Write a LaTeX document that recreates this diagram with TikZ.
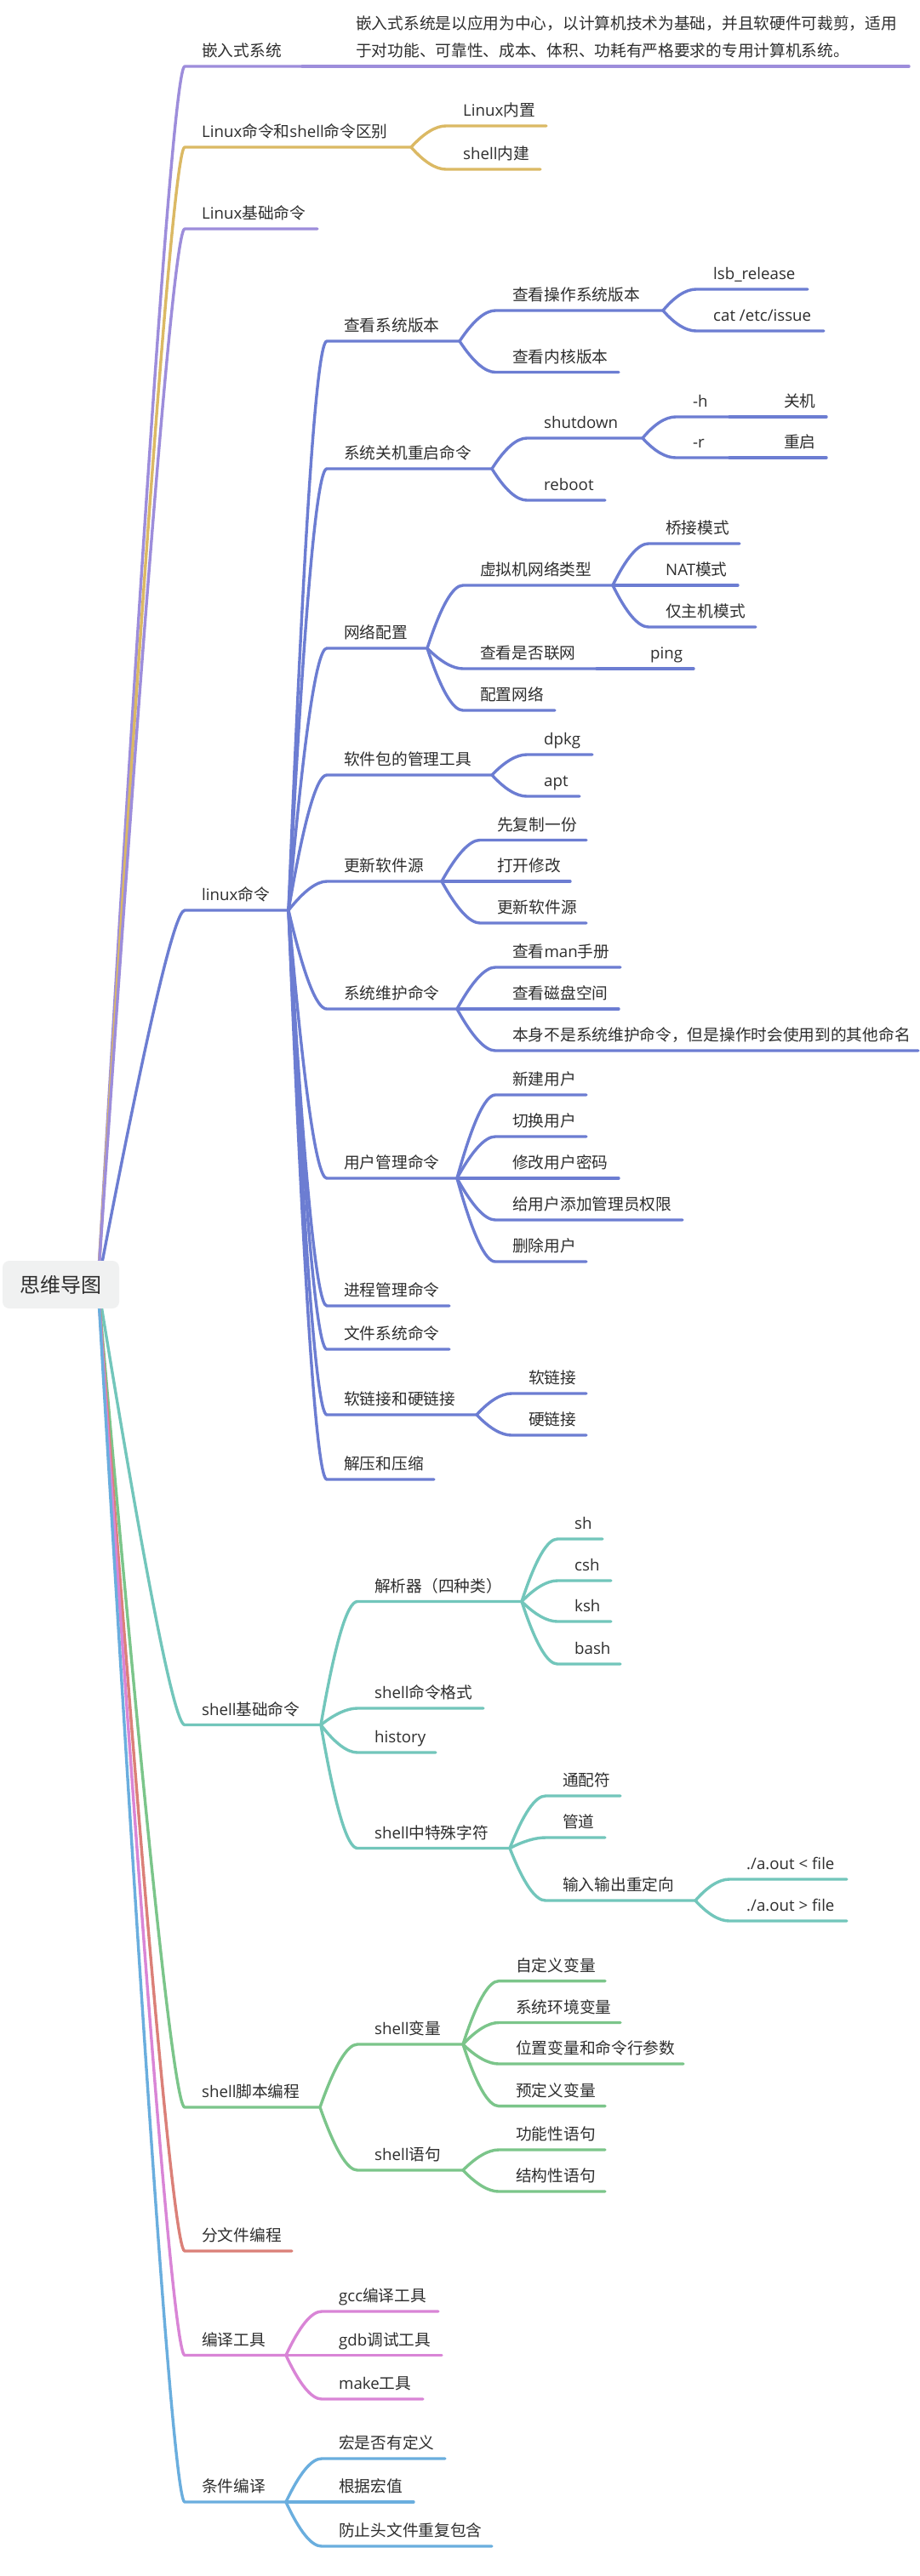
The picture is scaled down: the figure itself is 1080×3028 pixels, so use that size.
\documentclass[tikz,border=0pt]{standalone}
\usepackage{fontspec}
\setmainfont{Noto Sans CJK SC}
\newfontfamily\osf{Open Sans}
\newcommand\LT[1]{{\osf #1}}
\usetikzlibrary{calc}
\definecolor{cPur}{HTML}{9D8DDB}
\definecolor{cGold}{HTML}{DBB964}
\definecolor{cBlu}{HTML}{6C7DD2}
\definecolor{cTeal}{HTML}{72C6BB}
\definecolor{cGrn}{HTML}{7BC58A}
\definecolor{cRed}{HTML}{DB8078}
\definecolor{cPnk}{HTML}{D985D6}
\definecolor{cSky}{HTML}{6AAEDE}
\definecolor{txt}{HTML}{2E2E2E}
\definecolor{rootfill}{HTML}{F0F1F1}
\tikzset{
  br/.style={line width=3.4pt, line cap=round, line join=round},
  lbl/.style={anchor=base west, inner sep=0pt, text=txt, font=\fontsize{18.7}{22}\selectfont},
  rootbox/.style={fill=rootfill, rounded corners=8pt, minimum width=137pt, minimum height=56pt, inner sep=0pt, text=txt, font=\fontsize{24}{28}\selectfont},
}
% #1 name, #2 parent fork, #3 colour, #4 text x, #5 line y, #6 line end x, #7 text
\newcommand\mbr[7]{%
  \coordinate (#1s) at ({#4-20},#5);
  \coordinate (#1e) at (#6,#5);
  \coordinate (#1c) at ({#4-38},#5);
  \draw[br,#3] (#2) .. controls ($(#2)!2/3!(#1c)$) and ($(#1s)!2/3!(#1c)$) .. (#1s) -- (#1e);
  \node[lbl] (#1) at (#4,{#5-11.5}) {#7};
}
\begin{document}
\begin{tikzpicture}[x=1pt,y=-1pt]
\fill[white] (0,0) rectangle (1080,3028);
\useasboundingbox (0,0) rectangle (1080,3028);
\coordinate (rootc) at (115,1510);

\mbr{emb}{rootc}{cPur}{237}{78}{355}{嵌入式系统}
\mbr{desc}{embe}{cPur}{418}{78}{1068}{\fontsize{18.7}{32}\selectfont\begin{tabular}[b]{@{}l@{}}嵌入式系统是以应用为中心，以计算机技术为基础，并且软硬件可裁剪，适用\\于对功能、可靠性、成本、体积、功耗有严格要求的专用计算机系统。\end{tabular}}

\mbr{diff}{rootc}{cGold}{237}{173}{483}{\LT{Linux}命令和\LT{shell}命令区别}
\mbr{lnz}{diffe}{cGold}{544}{148}{642}{\LT{Linux}内置}
\mbr{shnj}{diffe}{cGold}{544}{199}{635}{\LT{shell}内建}

\mbr{basic}{rootc}{cPur}{237}{269}{373}{\LT{Linux}基础命令}

\mbr{lx}{rootc}{cBlu}{237}{1070}{339}{\LT{linux}命令}
\mbr{ver}{lxe}{cBlu}{404}{401}{540}{查看系统版本}
\mbr{osv}{vere}{cBlu}{602}{365}{779}{查看操作系统版本}
\mbr{lsb}{osve}{cBlu}{838}{340}{949}{\LT{lsb\_release}}
\mbr{cat}{osve}{cBlu}{838}{389}{968}{\LT{cat /etc/issue}}
\mbr{kv}{vere}{cBlu}{602}{437.5}{727}{查看内核版本}
\mbr{pw}{lxe}{cBlu}{404}{551}{578}{系统关机重启命令}
\mbr{sd}{pwe}{cBlu}{639}{515}{755}{\LT{shutdown}}
\mbr{hh}{sde}{cBlu}{814}{490}{857}{\LT{-h}}
\mbr{gj}{hhe}{cBlu}{921}{490}{971}{关机}
\mbr{rr}{sde}{cBlu}{814}{538}{857}{\LT{-r}}
\mbr{cq}{rre}{cBlu}{921}{538}{971}{重启}
\mbr{rb}{pwe}{cBlu}{639}{588}{711}{\LT{reboot}}
\mbr{net}{lxe}{cBlu}{404}{762}{502}{网络配置}
\mbr{vm}{nete}{cBlu}{564}{688}{720}{虚拟机网络类型}
\mbr{bri}{vme}{cBlu}{782}{639}{869}{桥接模式}
\mbr{nat}{vme}{cBlu}{782}{688}{867}{\LT{NAT}模式}
\mbr{host}{vme}{cBlu}{782}{737}{888}{仅主机模式}
\mbr{conn}{nete}{cBlu}{564}{786}{701}{查看是否联网}
\mbr{ping}{conne}{cBlu}{764}{786}{815}{\LT{ping}}
\mbr{cfg}{nete}{cBlu}{564}{835}{652}{配置网络}
\mbr{pkg}{lxe}{cBlu}{404}{911}{578}{软件包的管理工具}
\mbr{dpkg}{pkge}{cBlu}{639}{887}{696}{\LT{dpkg}}
\mbr{apt}{pkge}{cBlu}{639}{936}{681}{\LT{apt}}
\mbr{src}{lxe}{cBlu}{404}{1036}{519}{更新软件源}
\mbr{cp}{srce}{cBlu}{584}{987.5}{689}{先复制一份}
\mbr{ed}{srce}{cBlu}{584}{1036}{670}{打开修改}
\mbr{up}{srce}{cBlu}{584}{1085}{689}{更新软件源}
\mbr{mt}{lxe}{cBlu}{404}{1186}{537}{系统维护命令}
\mbr{man}{mte}{cBlu}{602}{1137}{729}{查看\LT{man}手册}
\mbr{df}{mte}{cBlu}{602}{1186}{727}{查看磁盘空间}
\mbr{oth}{mte}{cBlu}{602}{1235}{1079}{本身不是系统维护命令，但是操作时会使用到的其他命名}
\mbr{usr}{lxe}{cBlu}{404}{1385}{537}{用户管理命令}
\mbr{ua}{usre}{cBlu}{602}{1287}{689}{新建用户}
\mbr{ub}{usre}{cBlu}{602}{1336}{689}{切换用户}
\mbr{uc}{usre}{cBlu}{602}{1385}{727}{修改用户密码}
\mbr{ud}{usre}{cBlu}{602}{1434}{802}{给用户添加管理员权限}
\mbr{uf}{usre}{cBlu}{602}{1483}{689}{删除用户}
\mbr{proc}{lxe}{cBlu}{404}{1535}{528}{进程管理命令}
\mbr{fsys}{lxe}{cBlu}{404}{1586}{528}{文件系统命令}
\mbr{lnk}{lxe}{cBlu}{404}{1663}{560}{软链接和硬链接}
\mbr{sl}{lnke}{cBlu}{621}{1638}{689}{软链接}
\mbr{hl}{lnke}{cBlu}{621}{1687}{689}{硬链接}
\mbr{zip}{lxe}{cBlu}{404}{1739}{510}{解压和压缩}

\mbr{sb}{rootc}{cTeal}{237}{2027.5}{377}{\LT{shell}基础命令}
\mbr{par}{sbe}{cTeal}{440}{1882.5}{613}{解析器（四种类）}
\mbr{sh}{pare}{cTeal}{675}{1809}{708}{\LT{sh}}
\mbr{csh}{pare}{cTeal}{675}{1858}{718}{\LT{csh}}
\mbr{ksh}{pare}{cTeal}{675}{1906}{718}{\LT{ksh}}
\mbr{bash}{pare}{cTeal}{675}{1956}{729}{\LT{bash}}
\mbr{fmt}{sbe}{cTeal}{440}{2008}{568}{\LT{shell}命令格式}
\mbr{his}{sbe}{cTeal}{440}{2060}{512}{\LT{history}}
\mbr{spc}{sbe}{cTeal}{440}{2172.5}{599}{\LT{shell}中特殊字符}
\mbr{wc}{spce}{cTeal}{661}{2111}{729}{通配符}
\mbr{pp}{spce}{cTeal}{661}{2160}{711}{管道}
\mbr{rd}{spce}{cTeal}{661}{2234}{817}{输入输出重定向}
\mbr{rdi}{rde}{cTeal}{877}{2209}{995}{\LT{./a.out < file}}
\mbr{rdo}{rde}{cTeal}{877}{2258}{995}{\LT{./a.out > file}}

\mbr{scr}{rootc}{cGrn}{237}{2477}{376}{\LT{shell}脚本编程}
\mbr{var}{scre}{cGrn}{440}{2403}{544}{\LT{shell}变量}
\mbr{va}{vare}{cGrn}{606}{2328.6}{711}{自定义变量}
\mbr{vb}{vare}{cGrn}{606}{2377.5}{729}{系统环境变量}
\mbr{vc}{vare}{cGrn}{606}{2426}{803}{位置变量和命令行参数}
\mbr{vd}{vare}{cGrn}{606}{2475.6}{711}{预定义变量}
\mbr{stm}{scre}{cGrn}{440}{2551}{544}{\LT{shell}语句}
\mbr{sa}{stme}{cGrn}{606}{2527}{711}{功能性语句}
\mbr{sz}{stme}{cGrn}{606}{2576}{711}{结构性语句}

\mbr{mf}{rootc}{cRed}{237}{2646}{343}{分文件编程}

\mbr{cmp}{rootc}{cPnk}{237}{2768.5}{336}{编译工具}
\mbr{gcc}{cmpe}{cPnk}{398}{2717}{515}{\LT{gcc}编译工具}
\mbr{gdb}{cmpe}{cPnk}{398}{2768.5}{519}{\LT{gdb}调试工具}
\mbr{mk}{cmpe}{cPnk}{398}{2820}{497}{\LT{make}工具}

\mbr{cnd}{rootc}{cSky}{237}{2941}{336}{条件编译}
\mbr{ma}{cnde}{cSky}{398}{2890}{523}{宏是否有定义}
\mbr{mb}{cnde}{cSky}{398}{2941}{486}{根据宏值}
\mbr{mc}{cnde}{cSky}{398}{2993}{578}{防止头文件重复包含}

\node[rootbox] (root) at (71.5,1510) {思维导图};
\end{tikzpicture}
\end{document}
